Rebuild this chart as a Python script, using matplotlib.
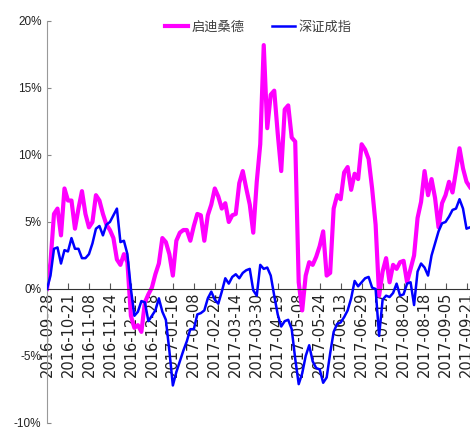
import numpy as np
import matplotlib
matplotlib.use("Agg")
import matplotlib.pyplot as plt

plt.rcParams['font.family'] = ['Liberation Sans', 'Noto Sans CJK SC', 'DejaVu Sans']

# trading-day index sampled every 2 days
n_days = 243
step = 2

qidi = [0.0, 2.0, 5.6, 6.0, 4.0, 7.5, 6.6, 6.6, 4.5, 6.0,
        7.3, 5.6, 4.6, 5.0, 7.0, 6.6, 5.6, 4.8, 4.4, 3.8,
        2.2, 1.8, 2.6, 2.0, -2.0, -2.9, -2.7, -3.2, -1.0, -0.4,
        0.1, 1.1, 1.9, 3.8, 3.5, 2.6, 1.0, 3.6, 4.2, 4.4,
        4.4, 3.6, 4.7, 5.6, 5.5, 3.6, 5.5, 6.3, 7.5, 6.9,
        6.0, 6.4, 5.0, 5.5, 5.6, 7.9, 8.8, 7.5, 6.3, 4.2,
        8.0, 10.8, 18.2, 12.0, 14.5, 14.8, 11.6, 8.8, 13.4, 13.7,
        11.3, 11.0, 0.5, -1.6, 1.0, 2.0, 1.8, 2.4, 3.2, 4.3,
        1.0, 1.2, 6.0, 7.0, 6.7, 8.7, 9.1, 7.4, 8.6, 8.2,
        10.8, 10.4, 9.7, 7.5, 4.8, -0.5, 1.3, 2.3, 0.5, 1.8,
        1.5, 2.0, 2.1, 0.5, 1.5, 2.5, 5.3, 6.5, 8.8, 7.0,
        8.2, 6.8, 4.6, 6.4, 7.0, 8.0, 7.2, 8.8, 10.5, 9.0,
        8.0, 7.6]

szcz = [0.0, 1.0, 3.0, 3.1, 1.9, 2.9, 2.8, 3.8, 3.0, 3.0,
        2.3, 2.3, 2.6, 3.4, 4.5, 4.7, 4.0, 4.8, 5.0, 5.5,
        6.0, 3.5, 3.6, 2.6, 0.0, -2.0, -1.7, -0.9, -1.0, -2.4,
        -2.0, -1.6, -0.7, -1.7, -2.3, -4.6, -7.2, -6.2, -5.4, -4.6,
        -3.9, -3.0, -3.0, -1.9, -1.8, -1.6, -0.7, -0.2, -0.8, -1.1,
        -0.2, 0.8, 0.4, 0.9, 1.1, 0.8, 1.2, 1.4, 1.5, -0.1,
        -0.5, 1.8, 1.5, 1.6, 1.0, -0.5, -1.9, -2.8, -2.4, -2.3,
        -3.0, -5.2, -7.1, -6.3, -5.0, -4.2, -5.4, -5.9, -6.0, -7.0,
        -6.6, -4.8, -3.2, -2.6, -2.5, -2.1, -1.6, -0.7, 0.6, 0.2,
        0.5, 0.8, 0.9, 0.1, 0.0, -3.5, -0.8, -0.5, -0.6, -0.3,
        0.4, -0.5, -0.4, 0.4, 0.5, -1.2, 1.3, 1.9, 1.6, 1.0,
        2.5, 3.4, 4.3, 4.9, 5.0, 5.4, 5.9, 6.0, 6.7, 6.0,
        4.5, 4.6]

tick_labels = ['2016-09-28', '2016-10-21', '2016-11-08', '2016-11-24', '2016-12-12',
               '2016-12-28', '2017-01-16', '2017-02-08', '2017-02-24', '2017-03-14',
               '2017-03-30', '2017-04-19', '2017-05-08', '2017-05-24', '2017-06-13',
               '2017-06-29', '2017-07-17', '2017-08-02', '2017-08-18', '2017-09-05',
               '2017-09-21']
tick_every = 12

series_names = ['启迪桑德', '深证成指']

x = np.arange(0, n_days, step)[:len(qidi)]

fig = plt.figure(figsize=(4.70, 4.28), dpi=100)
ax = fig.add_axes([0.1, 0.0117, 0.9, 0.9393])

ax.plot(x, qidi, color='#FF00FF', lw=3.0, label=series_names[0], zorder=2,
        solid_joinstyle='round')
ax.plot(x, szcz, color='#0000FF', lw=1.8, label=series_names[1], zorder=3,
        solid_joinstyle='round')

ax.set_xlim(0, x[-1])
ax.set_ylim(-10, 20)

ax.spines['top'].set_visible(False)
ax.spines['right'].set_visible(False)
ax.spines['bottom'].set_position(('data', 0))
ax.spines['bottom'].set_color('#333333')
ax.spines['bottom'].set_linewidth(0.8)
ax.spines['left'].set_color('#999999')
ax.spines['left'].set_linewidth(0.8)

ax.tick_params(axis='x', direction='in', length=4, width=0.8, color='#555555', pad=2,
               labelrotation=90)
ax.tick_params(axis='y', direction='in', length=3, width=0.8, color='#888888', pad=4)

yt = [-10, -5, 0, 5, 10, 15, 20]
ax.set_yticks(yt)
ax.set_yticklabels([f'{v}%' for v in yt], fontsize=8.5, color='#222222')

ticks = np.arange(len(tick_labels)) * tick_every
ax.set_xticks(ticks)
ax.set_xticklabels(tick_labels, fontsize=10.5, color='#222222', family='DejaVu Sans')
for lab in ax.get_xticklabels():
    lab.set_rotation(90)
    lab.set_va('top')
    lab.set_ha('center')

leg = ax.legend(loc='center', bbox_to_anchor=(0.5, 0.985), ncol=2, frameon=False,
                fontsize=9.5, handlelength=1.75, handletextpad=0.25,
                columnspacing=2.1, borderaxespad=0)
for t in leg.get_texts():
    t.set_color('#404040')

fig.savefig('out.png', dpi=100)
